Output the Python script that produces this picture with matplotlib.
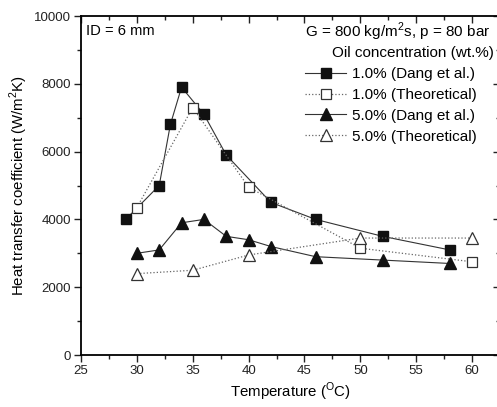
import matplotlib.pyplot as plt
from matplotlib.ticker import MultipleLocator

plt.rcParams['font.family'] = ['Liberation Sans', 'DejaVu Sans']
plt.rcParams['mathtext.fontset'] = 'custom'
plt.rcParams['mathtext.rm'] = 'Liberation Sans'

# Data
t_dang_1 = [29, 32, 33, 34, 36, 38, 42, 46, 52, 58]
h_dang_1 = [4000, 5000, 6800, 7900, 7100, 5900, 4500, 4000, 3500, 3100]
t_theo_1 = [30, 35, 40, 50, 60]
h_theo_1 = [4350, 7300, 4950, 3150, 2750]
t_dang_5 = [30, 32, 34, 36, 38, 40, 42, 46, 52, 58]
h_dang_5 = [3000, 3100, 3900, 4000, 3500, 3400, 3200, 2900, 2800, 2700]
t_theo_5 = [30, 35, 40, 50, 60]
h_theo_5 = [2400, 2500, 2950, 3450, 3450]

fig = plt.figure(figsize=(4.97, 4.07), dpi=100)
W, H = 497, 407
ax = fig.add_axes([81 / W, (H - 355) / H, (500 - 81) / W, (355 - 16) / H])

ax.plot(t_dang_1, h_dang_1, '-', color='#333333', lw=0.8, marker='s', ms=7.5,
        mfc='#111111', mec='#111111', label='1.0% (Dang et al.)')
ax.plot(t_theo_1, h_theo_1, ':', color='#666666', lw=0.9, marker='s', ms=7.5,
        mfc='white', mec='#333333', mew=0.9, label='1.0% (Theoretical)')
ax.plot(t_dang_5, h_dang_5, '-', color='#333333', lw=0.8, marker='^', ms=8.5,
        mfc='#111111', mec='#111111', label='5.0% (Dang et al.)')
ax.plot(t_theo_5, h_theo_5, ':', color='#666666', lw=0.9, marker='^', ms=8.5,
        mfc='white', mec='#333333', mew=0.9, label='5.0% (Theoretical)')

ax.set_xlim(25, 62.5)
ax.set_ylim(0, 10000)
ax.xaxis.set_major_locator(MultipleLocator(5))
ax.xaxis.set_minor_locator(MultipleLocator(2.5))
ax.yaxis.set_major_locator(MultipleLocator(2000))
ax.yaxis.set_minor_locator(MultipleLocator(1000))
ax.tick_params(which='both', direction='out', top=True, right=True,
               labelsize=9.5, width=1, pad=2, colors='#222222')
ax.tick_params(which='major', length=5)
ax.tick_params(which='minor', length=3)
for s in ax.spines.values():
    s.set_linewidth(1.3)

# top and right ticks point inward
for tk in ax.xaxis.get_major_ticks() + ax.xaxis.get_minor_ticks():
    tk.tick2line.set_marker(3)
for tk in ax.yaxis.get_major_ticks() + ax.yaxis.get_minor_ticks():
    tk.tick2line.set_marker(0)

ax.set_xlabel('Temperature ($^\\mathrm{O}$C)', fontsize=10.8, labelpad=3)
ax.set_ylabel('Heat transfer coefficient (W/m$^2$K)', fontsize=10.8, labelpad=3)

ax.text(0.012, 0.975, 'ID = 6 mm', transform=ax.transAxes, fontsize=10.6,
        va='top', ha='left')
fig.text(490 / W, 1 - 32 / H, 'G = 800 kg/m$^2$s, p = 80 bar', fontsize=11,
         ha='right', va='center')
fig.text(494 / W, 1 - 53 / H, 'Oil concentration (wt.%)', fontsize=11,
         ha='right', va='center')

leg = ax.legend(loc='upper left', bbox_to_anchor=(305 / W, 1 - 67 / H),
                bbox_transform=fig.transFigure, frameon=False, fontsize=11,
                handlelength=2.7, handletextpad=0.35, labelspacing=0.45,
                borderpad=0, borderaxespad=0)

fig.savefig('out.png', dpi=100)
